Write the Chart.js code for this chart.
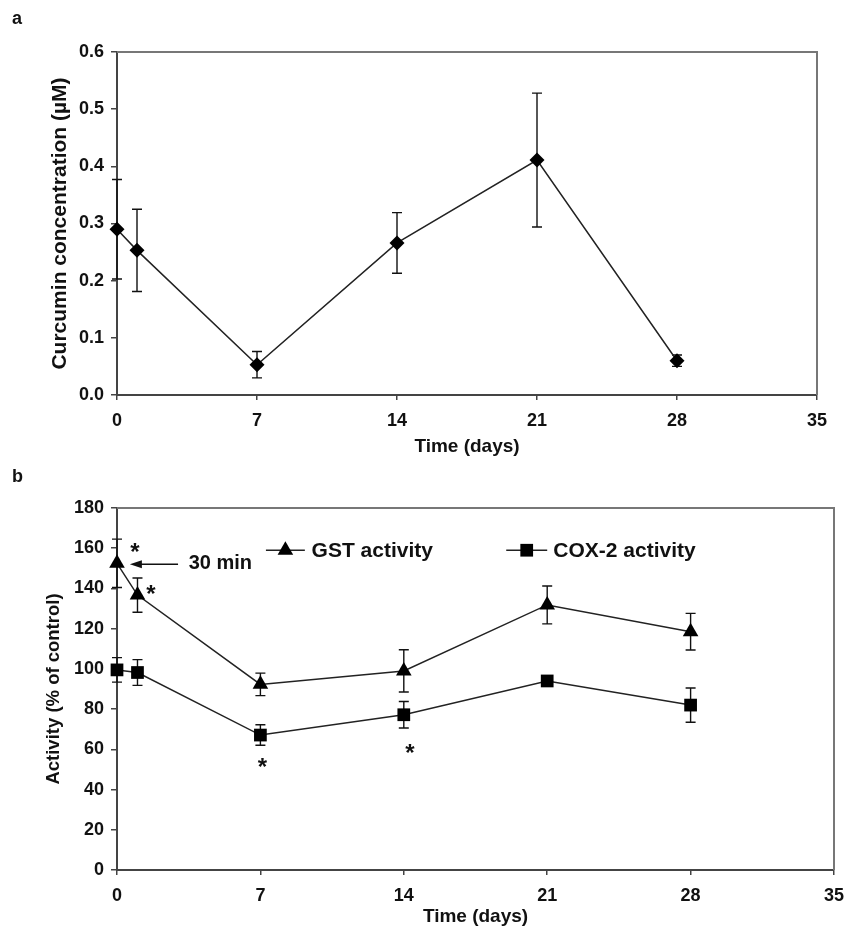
<!DOCTYPE html>
<html><head><meta charset="utf-8">
<script src="https://cdn.jsdelivr.net/npm/chart.js@4.4.1/dist/chart.umd.min.js"></script>
<style>
html,body{margin:0;padding:0;background:#fff;}
body{width:847px;height:939px;position:relative;overflow:hidden;font-family:'Liberation Sans',Arial,sans-serif;}
#wa{position:absolute;left:0;top:0;width:847px;height:470px;}
#wb{position:absolute;left:0;top:470px;width:847px;height:469px;}
.lbl{position:absolute;font-weight:bold;font-size:18px;line-height:18px;color:#111;}
</style></head><body>
<div id="wa"><canvas id="ca" width="847" height="470"></canvas></div>
<div id="wb"><canvas id="cb" width="847" height="469"></canvas></div>
<div class="lbl" style="left:12px;top:9px">a</div>
<div class="lbl" style="left:12px;top:467px">b</div>
<script>
// ---------- data ----------
const days = [0, 1, 7, 14, 21, 28];
const curcumin = [0.29, 0.253, 0.053, 0.266, 0.411, 0.06];
const curcuminErr = [0.087, 0.072, 0.023, 0.053, 0.117, 0.01];
const gst = [152.5, 136.7, 92.3, 99.0, 131.8, 118.5];
const gstErr = [12.0, 8.5, 5.6, 10.5, 9.4, 9.1];
const cox = [99.5, 98.2, 67.1, 77.2, 94.0, 82.0];
const coxErr = [6.1, 6.4, 5.1, 6.6, 2.0, 8.5];
const xTicks = [0, 7, 14, 21, 28, 35];
const yTicksA = [0, 0.1, 0.2, 0.3, 0.4, 0.5, 0.6];
const yTicksB = [0, 20, 40, 60, 80, 100, 120, 140, 160, 180];
const labelsB = ['GST activity', 'COX-2 activity'];
const titleA = 'Curcumin concentration (\u00B5M)';
const titleB = 'Activity (% of control)';
const titleX = 'Time (days)';

// ---------- styles ----------
const FONT = "'Liberation Sans', Arial, sans-serif";
const INK = '#111';
const AXIS = '#444';

function pts(xs, ys) { return xs.map((d, i) => ({x: d, y: ys[i]})); }

function marker(ctx, style, x, y, r) {
  ctx.beginPath();
  if (style === 'triangle') {
    let a = 0;
    ctx.moveTo(x + Math.sin(a) * r, y - Math.cos(a) * r);
    a += 2 * Math.PI / 3; ctx.lineTo(x + Math.sin(a) * r, y - Math.cos(a) * r);
    a += 2 * Math.PI / 3; ctx.lineTo(x + Math.sin(a) * r, y - Math.cos(a) * r);
    ctx.closePath();
  } else if (style === 'rect') {
    const s = Math.SQRT1_2 * r;
    ctx.rect(x - s, y - s, 2 * s, 2 * s);
  } else {
    ctx.moveTo(x - r, y); ctx.lineTo(x, y - r); ctx.lineTo(x + r, y); ctx.lineTo(x, y + r); ctx.closePath();
  }
  ctx.fill();
}

const errorBars = {
  id: 'errorBars',
  beforeDatasetsDraw(chart) {
    const {ctx, scales: {x, y}} = chart;
    ctx.save(); ctx.strokeStyle = INK; ctx.lineWidth = 1.4;
    chart.data.datasets.forEach(ds => {
      if (!ds.errors) return;
      ds.data.forEach((p, i) => {
        const e = ds.errors[i];
        const px = x.getPixelForValue(p.x);
        const y1 = y.getPixelForValue(p.y + e), y2 = y.getPixelForValue(p.y - e);
        ctx.beginPath();
        ctx.moveTo(px, y1); ctx.lineTo(px, y2);
        ctx.moveTo(px - 5, y1); ctx.lineTo(px + 5, y1);
        ctx.moveTo(px - 5, y2); ctx.lineTo(px + 5, y2);
        ctx.stroke();
      });
    });
    ctx.restore();
  }
};

const frame = {
  id: 'frame',
  beforeDatasetsDraw(chart) {
    const {ctx, chartArea: a} = chart;
    ctx.save(); ctx.strokeStyle = '#777'; ctx.lineWidth = 2;
    ctx.beginPath(); ctx.moveTo(a.left, a.top); ctx.lineTo(a.right, a.top); ctx.lineTo(a.right, a.bottom); ctx.stroke();
    ctx.restore();
  }
};

const annot = {
  id: 'annot',
  afterDatasetsDraw(chart, args, o) {
    if (!o || !o.stars) return;
    const {ctx, scales: {x, y}} = chart;
    ctx.save();
    ctx.fillStyle = INK; ctx.strokeStyle = INK;
    // asterisks
    ctx.font = 'bold 24px ' + FONT; ctx.textAlign = 'center'; ctx.textBaseline = 'middle';
    o.stars.forEach(s => ctx.fillText('*', x.getPixelForValue(s[0]), y.getPixelForValue(s[1]) + 5));
    // arrow + note
    const ax1 = x.getPixelForValue(o.arrow[0]), ax2 = x.getPixelForValue(o.arrow[1]), ay = y.getPixelForValue(o.arrow[2]);
    ctx.lineWidth = 1.4;
    ctx.beginPath(); ctx.moveTo(ax1, ay); ctx.lineTo(ax2 + 6, ay); ctx.stroke();
    ctx.beginPath(); ctx.moveTo(ax2, ay); ctx.lineTo(ax2 + 12, ay - 4); ctx.lineTo(ax2 + 12, ay + 4); ctx.closePath(); ctx.fill();
    ctx.font = 'bold 20px ' + FONT; ctx.textAlign = 'left';
    ctx.fillText(o.note[2], x.getPixelForValue(o.note[0]), y.getPixelForValue(o.note[1]));
    // legend
    o.legend.forEach(l => {
      const ds = chart.data.datasets[l.ds];
      const ly = y.getPixelForValue(l.y);
      ctx.lineWidth = 1.5; ctx.strokeStyle = '#222';
      ctx.beginPath(); ctx.moveTo(x.getPixelForValue(l.x1), ly); ctx.lineTo(x.getPixelForValue(l.x2), ly); ctx.stroke();
      ctx.fillStyle = '#000';
      marker(ctx, ds.pointStyle, x.getPixelForValue((l.x1 + l.x2) / 2), ly, ds.pointRadius);
      ctx.fillStyle = INK; ctx.font = 'bold 21px ' + FONT; ctx.textAlign = 'left'; ctx.textBaseline = 'middle';
      ctx.fillText(ds.label, x.getPixelForValue(l.xt), ly + 1);
    });
    ctx.restore();
  }
};

function axisX(h, pad) {
  return {
    type: 'linear', min: 0, max: 35,
    afterBuildTicks: s => { s.ticks = xTicks.map(v => ({value: v})); },
    afterFit: s => { s.height = h; s.paddingLeft = 0; s.paddingRight = 0; },
    grid: {display: true, drawOnChartArea: false, drawTicks: true, tickLength: 5, color: AXIS, lineWidth: 1.5},
    border: {display: true, color: AXIS, width: 2},
    ticks: {color: INK, font: {family: FONT, size: 18, weight: 'bold'}, padding: 10, maxRotation: 0},
    title: {display: true, text: titleX, color: INK, font: {family: FONT, size: 19, weight: 'bold'}, padding: {top: 0, bottom: pad}}
  };
}
function axisY(ticks, title, tsize, tpad, fmt) {
  return {
    type: 'linear', min: ticks[0], max: ticks[ticks.length - 1],
    afterBuildTicks: s => { s.ticks = ticks.map(v => ({value: v})); },
    afterFit: s => { s.width = 117; s.paddingTop = 0; s.paddingBottom = 0; },
    grid: {display: true, drawOnChartArea: false, drawTicks: true, tickLength: 6, color: AXIS, lineWidth: 1.5},
    border: {display: true, color: AXIS, width: 2},
    ticks: {color: INK, font: {family: FONT, size: 18, weight: 'bold'}, padding: 7, callback: fmt},
    title: {display: true, text: title, color: INK, font: {family: FONT, size: tsize, weight: 'bold'}, padding: {top: tpad, bottom: 0}}
  };
}

const lineDs = (label, data, err, style, r) => ({
  label, data, errors: err, pointStyle: style, pointRadius: r, pointHoverRadius: r,
  borderColor: '#222', borderWidth: 1.5, pointBackgroundColor: '#000', pointBorderColor: '#000', pointBorderWidth: 0,
  tension: 0, clip: false, fill: false
});

new Chart(document.getElementById('ca'), {
  type: 'line',
  data: {datasets: [lineDs('Curcumin', pts(days, curcumin), curcuminErr, 'rectRot', 7.5)]},
  options: {
    responsive: false, animation: false, events: [],
    layout: {padding: {left: 0, top: 52, right: 30, bottom: 0}},
    plugins: {legend: {display: false}, tooltip: {enabled: false}},
    scales: {
      x: axisX(75, 12),
      y: axisY(yTicksA, titleA, 21, 48, v => Number(v).toFixed(1))
    }
  },
  plugins: [frame, errorBars]
});

new Chart(document.getElementById('cb'), {
  type: 'line',
  data: {datasets: [
    lineDs(labelsB[0], pts(days, gst), gstErr, 'triangle', 9),
    lineDs(labelsB[1], pts(days, cox), coxErr, 'rect', 9)
  ]},
  options: {
    responsive: false, animation: false, events: [],
    layout: {padding: {left: 0, top: 38, right: 13, bottom: 0}},
    plugins: {
      legend: {display: false}, tooltip: {enabled: false},
      annot: {
        stars: [[0.88, 160], [1.66, 139], [7.1, 53], [14.3, 60]],
        arrow: [2.98, 0.63, 152],
        note: [3.5, 152.5, '30 min'],
        legend: [{ds: 0, x1: 7.27, x2: 9.17, xt: 9.5, y: 159}, {ds: 1, x1: 19.0, x2: 21.0, xt: 21.3, y: 159}]
      }
    },
    scales: {
      x: axisX(69, 11),
      y: axisY(yTicksB, titleB, 18.5, 43, v => String(v))
    }
  },
  plugins: [frame, errorBars, annot]
});
</script>
</body></html>
